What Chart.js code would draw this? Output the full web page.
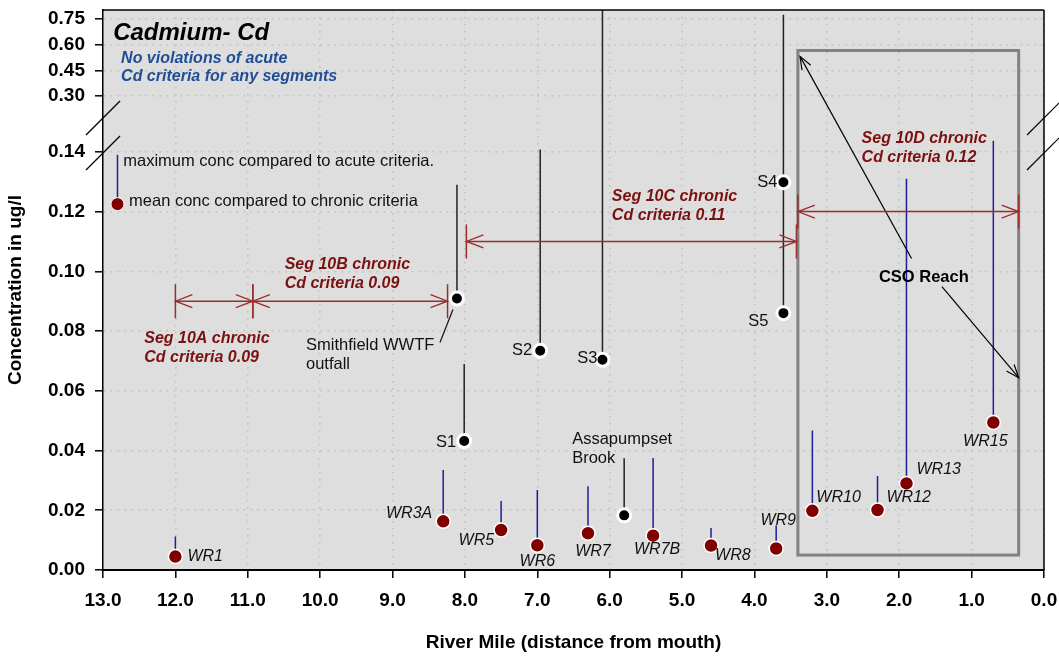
<!DOCTYPE html>
<html>
<head>
<meta charset="utf-8">
<title>Cadmium - Cd</title>
<script src="https://cdn.jsdelivr.net/npm/chart.js@4.4.1/dist/chart.umd.min.js"></script>
<style>
  html, body { margin: 0; padding: 0; background: #fff; }
  #wrap { position: relative; width: 1059px; height: 656px; }
</style>
</head>
<body>
<div id="wrap"><canvas id="chart"></canvas></div>
<script>
// ---- values ----

// river stations: mean conc (dot) and maximum conc (top of the blue line)
const wrSites = ['WR1', 'WR3A', 'WR5', 'WR6', 'WR7', 'WR7B', 'WR8', 'WR9', 'WR10', 'WR12', 'WR13', 'WR15'];
const wrMiles = [12.0, 8.3, 7.5, 7.0, 6.3, 5.4, 4.6, 3.7, 3.2, 2.3, 1.9, 0.7];
const wrMean  = [0.0045, 0.0163, 0.0134, 0.0083, 0.0123, 0.0115, 0.0082, 0.0072, 0.0198, 0.0201, 0.0290, 0.0494];
const wrMax   = [0.0112, 0.0335, 0.0231, 0.0268, 0.0280, 0.0375, 0.0141, 0.0149, 0.0467, 0.0315, 0.1310, 0.1437];

// sources / tributaries (black)
const srcSites = ['S1', 'Smithfield WWTF\noutfall', 'S2', 'S3', 'Assapumpset\nBrook', 'S4', 'S5'];
const srcMiles = [8.01, 8.11, 6.96, 6.1, 5.8, 3.6, 3.6];
const srcMean  = [0.0432, 0.0909, 0.0734, 0.0704, 0.0183, 0.1298, 0.0860];
const srcMax   = [0.0690, 0.1290, 0.1408, 0.80, 0.0374, 0.773, 0.1298];

// chronic criteria per segment
const segNames    = ['Seg 10A', 'Seg 10B', 'Seg 10C', 'Seg 10D'];
const segStart    = [12.0, 10.93, 7.98, 3.40];
const segEnd      = [10.93, 8.24, 3.42, 0.35];
const segCriteria = [0.09, 0.09, 0.11, 0.12];

// CSO reach box (river miles and conc range)
const csoMiles = [3.40, 0.35];
const csoRange = [0.005, 0.565];

// legend key (mean dot + max line)
const keyMile = 12.8;
const keyMean = 0.1225;
const keyMax = 0.139;

const yTicks = [0, 0.02, 0.04, 0.06, 0.08, 0.10, 0.12, 0.14, 0.30, 0.45, 0.60, 0.75];
const Y_BREAK = 0.15;       // axis changes scale above this
const Y_LOWER_SHARE = 0.8;  // share of the plot height for 0 .. Y_BREAK

// ---- styling / label placement ----
const FONT = "'Liberation Sans', Arial, Helvetica, sans-serif";
const RED_TEXT = '#7b1010';
const RED_LINE = '#9b2d2d';
const RED_DOT = '#800000';
const BLUE_LINE = '#1f1f9c';
const BLUE_TEXT = '#1f4e96';
const PLOT_BG = '#dedede';
const GRID = '#c0c0c0';
const LINE_GAP = 19;

// [dx, dy, align] from the dot, in px
const wrLabelStyle = [
    [12, 0, 'left'], [-11, -8, 'right'], [-7, 11, 'right'], [0, 16, 'center'],
    [5, 18, 'center'], [4, 14, 'center'], [4, 10, 'left'], [2, -28, 'center'],
    [4, -13, 'left'], [9, -12, 'left'], [10, -14, 'left'], [-8, 19, 'center'],
];
// [dx, dy, align, leader]
const srcLabelStyle = [
    [-8, 1, 'right'], [-151, 47, 'left', [-4, 11, -17, 44]], [-8, 0, 'right'],
    [-5, -1, 'right'], [-52, -76, 'left'], [-6, 0, 'right'], [-15, 8, 'right'],
];
// first text line of each segment label, in data coords
const segLabelAt = [[12.43, 0.0775], [10.49, 0.1023], [5.97, 0.1251], [2.52, 0.1445]];

// free text notes, in data coords
const notes = [
    { text: 'Cadmium- Cd', x: 12.86, y: 0.664, font: `italic bold 24px ${FONT}`, color: '#000' },
    { text: 'No violations of acute\nCd criteria for any segments', x: 12.75, y: 0.519, font: `italic bold 16px ${FONT}`, color: BLUE_TEXT, gap: 18 },
    { text: 'maximum conc compared to acute criteria.', x: 12.72, y: 0.1367, font: `16.5px ${FONT}`, color: '#111' },
    { text: 'mean conc compared to chronic criteria', x: 12.64, y: 0.1233, font: `16.5px ${FONT}`, color: '#111' },
    { text: 'CSO Reach', x: 1.66, y: 0.0979, font: `bold 16.5px ${FONT}`, color: '#000', align: 'center' },
];
// CSO arrows: [tailMile, tailConc, tipMile, tipConc]
const csoArrows = [[1.83, 0.1043, 3.37, 0.531], [1.41, 0.0949, 0.35, 0.0644]];

/**
 * Linear axis with a scale break: 0 .. Y_BREAK gets most of the height,
 * everything above it is squeezed into the rest.
 */
class BrokenScale extends Chart.LinearScale {
    buildTicks() {
        return yTicks.map(v => ({ value: v }));
    }
    valueToDecimal(v) {
        if (v <= Y_BREAK) {
            return (v - this.min) / (Y_BREAK - this.min) * Y_LOWER_SHARE;
        }
        return Y_LOWER_SHARE + (v - Y_BREAK) / (this.max - Y_BREAK) * (1 - Y_LOWER_SHARE);
    }
    getPixelForValue(value) {
        if (value === null || value === undefined || isNaN(value)) {
            return NaN;
        }
        return this.getPixelForDecimal(this.valueToDecimal(value));
    }
    getValueForPixel(pixel) {
        const d = this.getDecimalForPixel(pixel);
        if (d <= Y_LOWER_SHARE) {
            return this.min + d / Y_LOWER_SHARE * (Y_BREAK - this.min);
        }
        return Y_BREAK + (d - Y_LOWER_SHARE) / (1 - Y_LOWER_SHARE) * (this.max - Y_BREAK);
    }
}
BrokenScale.id = 'broken';
BrokenScale.defaults = Chart.LinearScale.defaults;
Chart.register(BrokenScale);

Chart.defaults.font.family = FONT;
Chart.defaults.color = '#000';

function drawText(ctx, str, x, y, font, color, align, gap) {
    ctx.save();
    ctx.font = font;
    ctx.fillStyle = color;
    ctx.textAlign = align || 'left';
    ctx.textBaseline = 'middle';
    str.split('\n').forEach((line, i) => ctx.fillText(line, x, y + i * (gap || LINE_GAP)));
    ctx.restore();
}

function drawLine(ctx, x1, y1, x2, y2, color, width) {
    ctx.save();
    ctx.strokeStyle = color;
    ctx.lineWidth = width;
    ctx.beginPath();
    ctx.moveTo(x1, y1);
    ctx.lineTo(x2, y2);
    ctx.stroke();
    ctx.restore();
}

// open arrow head at (tipX, tipY), coming from (fromX, fromY)
function drawArrowHead(ctx, tipX, tipY, fromX, fromY, len, half, color, width) {
    const ang = Math.atan2(tipY - fromY, tipX - fromX);
    const bx = tipX - len * Math.cos(ang);
    const by = tipY - len * Math.sin(ang);
    const px = -Math.sin(ang) * half;
    const py = Math.cos(ang) * half;
    ctx.save();
    ctx.strokeStyle = color;
    ctx.lineWidth = width;
    ctx.beginPath();
    ctx.moveTo(bx + px, by + py);
    ctx.lineTo(tipX, tipY);
    ctx.lineTo(bx - px, by - py);
    ctx.stroke();
    ctx.restore();
}

const annotate = {
    id: 'annotate',
    beforeDraw(chart) {
        const { ctx, chartArea: a } = chart;
        ctx.save();
        ctx.fillStyle = PLOT_BG;
        ctx.fillRect(a.left, a.top, a.right - a.left, a.bottom - a.top);
        ctx.restore();
    },
    afterDatasetsDraw(chart) {
        const { ctx } = chart;
        const xs = chart.scales.x;
        const ys = chart.scales.y;
        const X = v => xs.getPixelForValue(v);
        const Y = v => ys.getPixelForValue(v);

        // CSO reach box
        ctx.save();
        ctx.strokeStyle = '#828282';
        ctx.lineWidth = 3;
        ctx.strokeRect(X(csoMiles[0]), Y(csoRange[1]), X(csoMiles[1]) - X(csoMiles[0]), Y(csoRange[0]) - Y(csoRange[1]));
        ctx.restore();

        // CSO arrows
        csoArrows.forEach(([m1, c1, m2, c2]) => {
            const x1 = X(m1), y1 = Y(c1), x2 = X(m2), y2 = Y(c2);
            drawLine(ctx, x1, y1, x2, y2, '#000', 1.2);
            drawArrowHead(ctx, x2, y2, x1, y1, 13, 5, '#000', 1.2);
        });

        // segment criteria arrows
        segNames.forEach((name, i) => {
            const x1 = X(segStart[i]);
            const x2 = X(segEnd[i]);
            const y = Y(segCriteria[i]);
            drawLine(ctx, x1, y, x2, y, RED_LINE, 1.5);
            drawLine(ctx, x1, y - 17, x1, y + 17, RED_LINE, 1.5);
            drawLine(ctx, x2, y - 17, x2, y + 17, RED_LINE, 1.5);
            drawArrowHead(ctx, x1, y, x2, y, 17, 6.5, RED_LINE, 1.3);
            drawArrowHead(ctx, x2, y, x1, y, 17, 6.5, RED_LINE, 1.3);
            const [lm, lc] = segLabelAt[i];
            drawText(ctx, `${name} chronic\nCd criteria ${segCriteria[i].toFixed(2)}`,
                X(lm), Y(lc), `italic bold 16px ${FONT}`, RED_TEXT, 'left');
        });

        // station labels
        wrSites.forEach((name, i) => {
            const [dx, dy, align] = wrLabelStyle[i];
            drawText(ctx, name, X(wrMiles[i]) + dx, Y(wrMean[i]) + dy, `italic 16px ${FONT}`, '#111', align);
        });
        srcSites.forEach((name, i) => {
            const [dx, dy, align, leader] = srcLabelStyle[i];
            const px = X(srcMiles[i]);
            const py = Y(srcMean[i]);
            drawText(ctx, name, px + dx, py + dy, `16.5px ${FONT}`, '#111', align);
            if (leader) {
                drawLine(ctx, px + leader[0], py + leader[1], px + leader[2], py + leader[3], '#111', 1.2);
            }
        });

        notes.forEach(n => drawText(ctx, n.text, X(n.x), Y(n.y), n.font, n.color, n.align, n.gap));
    },
    afterDraw(chart) {
        const { ctx, chartArea: a } = chart;
        const yb = chart.scales.y.getPixelForValue(Y_BREAK);
        // top and right frame
        drawLine(ctx, a.left, a.top, a.right, a.top, '#000', 1.5);
        drawLine(ctx, a.right, a.top, a.right, a.bottom, '#000', 1.5);
        // break marks on both sides
        [a.left, a.right].forEach(cx => {
            [yb - 4, yb + 31].forEach(cy => {
                drawLine(ctx, cx - 17, cy + 17, cx + 17, cy - 17, '#000', 1.2);
            });
        });
    },
};

const lineData = (miles, low, high) =>
    miles.flatMap((m, i) => [{ x: m, y: low[i] }, { x: m, y: high[i] }, { x: m, y: null }]);

new Chart(document.getElementById('chart'), {
    type: 'scatter',
    data: {
        datasets: [
            {
                label: 'Source mean',
                data: srcMiles.map((m, i) => ({ x: m, y: srcMean[i] })),
                pointRadius: 6.5,
                pointBackgroundColor: '#000',
                pointBorderColor: '#fff',
                pointBorderWidth: 3,
                order: 0,
            },
            {
                label: 'Mean conc',
                data: wrMiles.map((m, i) => ({ x: m, y: wrMean[i] })),
                pointRadius: 7,
                pointBackgroundColor: RED_DOT,
                pointBorderColor: '#fff',
                pointBorderWidth: 1.5,
                order: 0,
            },
            {
                label: 'Key mean',
                data: [{ x: keyMile, y: keyMean }],
                pointRadius: 6.5,
                pointBackgroundColor: RED_DOT,
                pointBorderColor: '#fff',
                pointBorderWidth: 1,
                order: 0,
            },
            {
                type: 'line',
                label: 'Source max',
                data: lineData(srcMiles, srcMean, srcMax),
                borderColor: '#222',
                borderWidth: 1.5,
                pointRadius: 0,
                spanGaps: false,
                order: 1,
            },
            {
                type: 'line',
                label: 'Max conc',
                data: lineData(wrMiles, wrMean, wrMax),
                borderColor: BLUE_LINE,
                borderWidth: 1.5,
                pointRadius: 0,
                spanGaps: false,
                order: 1,
            },
            {
                type: 'line',
                label: 'Key max',
                data: lineData([keyMile], [keyMean], [keyMax]),
                borderColor: BLUE_LINE,
                borderWidth: 1.5,
                pointRadius: 0,
                spanGaps: false,
                order: 1,
            },
        ],
    },
    options: {
        responsive: true,
        maintainAspectRatio: false,
        animation: false,
        events: [],
        layout: { padding: { top: 10, right: 15, bottom: 0, left: 0 } },
        plugins: {
            legend: { display: false },
            tooltip: { enabled: false },
        },
        scales: {
            x: {
                type: 'linear',
                reverse: true,
                min: 0,
                max: 13,
                afterFit: (s) => {
                    s.height = 86;
                    s.paddingLeft = 0;
                    s.paddingRight = 0;
                },
                ticks: {
                    stepSize: 1,
                    callback: (v) => Number(v).toFixed(1),
                    font: { size: 19, weight: 'bold' },
                    color: '#000',
                    padding: 11,
                    maxRotation: 0,
                    autoSkip: false,
                },
                grid: { color: GRID, lineWidth: 1.6, tickColor: '#000', tickLength: 8, tickWidth: 1.5 },
                border: { color: '#000', width: 2, dash: [1.6, 5.4] },
                title: {
                    display: true,
                    text: 'River Mile (distance from mouth)',
                    font: { size: 19, weight: 'bold' },
                    color: '#000',
                    padding: { top: 0, bottom: 2 },
                },
            },
            y: {
                type: 'broken',
                min: 0,
                max: 0.8,
                afterFit: (s) => {
                    s.width = 103;
                    s.paddingTop = 0;
                    s.paddingBottom = 0;
                },
                ticks: {
                    callback: (v) => Number(v).toFixed(2),
                    font: { size: 19, weight: 'bold' },
                    color: '#000',
                    padding: 10,
                    autoSkip: false,
                },
                grid: { color: GRID, lineWidth: 1.6, tickColor: '#000', tickLength: 8, tickWidth: 1.5 },
                border: { color: '#000', width: 1.5, dash: [1.6, 5.4] },
                title: {
                    display: true,
                    text: 'Concentration in ug/l',
                    font: { size: 19, weight: 'bold' },
                    color: '#000',
                    padding: { top: 4, bottom: 0 },
                },
            },
        },
    },
    plugins: [annotate],
});
</script>
</body>
</html>
